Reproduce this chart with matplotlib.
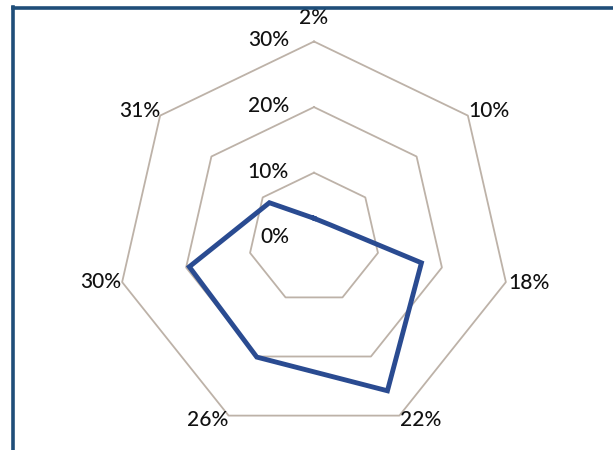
import numpy as np
import matplotlib
matplotlib.use("Agg")
import matplotlib.pyplot as plt
from matplotlib.lines import Line2D

categories = ["2%", "10%", "18%", "22%", "26%", "30%", "31%"]
values = [3.05, 3.25, 16.8, 25.8, 20.1, 19.5, 8.7]
ring_levels = [10, 20, 30]
ring_labels = ["0%", "10%", "20%", "30%"]
ring_label_values = [0, 10, 20, 30]

plt.rcParams['font.family'] = ['Lato', 'DejaVu Sans']

W, H = 613, 450
fig = plt.figure(figsize=(W / 100, H / 100), dpi=100)
fig.patch.set_facecolor('white')

cx, cy, R = 314, 238.3, 196.8
ax = fig.add_axes([(cx - R) / W, (H - cy - R) / H, 2 * R / W, 2 * R / H], projection='polar')
ax.set_theta_offset(np.pi / 2)
ax.set_theta_direction(-1)
ax.set_ylim(0, 30)
ax.grid(False)
ax.spines['polar'].set_visible(False)
ax.set_xticks([])
ax.set_yticks([])
ax.patch.set_alpha(0)

n = len(categories)
angles = np.linspace(0, 2 * np.pi, n, endpoint=False)
closed = np.concatenate([angles, angles[:1]])

grid_color = '#BDB2A8'
for lv in ring_levels:
    ax.plot(closed, [lv] * (n + 1), color=grid_color, lw=1.3, clip_on=False, zorder=1)

vals = list(values) + [values[0]]
ax.plot(closed, vals, color='#2A4B91', lw=3.5, clip_on=False, zorder=3,
        solid_joinstyle='miter')

txt_color = '#111111'
fs = 15
# category labels: (ha, va, dx, dy) in pixels
label_style = [
    ('center', 'center', 0, 24),
    ('left', 'center', 0, 5),
    ('left', 'center', 2, -1),
    ('left', 'center', 1, -4),
    ('right', 'center', 0, -4),
    ('right', 'center', -1, 0),
    ('right', 'center', 0, 5),
]
for ang, lab, (ha, va, dx, dy) in zip(angles, categories, label_style):
    ax.annotate(lab, xy=(ang, 30), xytext=(dx, dy), textcoords='offset pixels',
                ha=ha, va=va, fontsize=fs, color=txt_color, annotation_clip=False,
                fontweight='medium')

for lv, lab in zip(ring_label_values, ring_labels):
    ax.annotate(lab, xy=(0, lv), xytext=(-25, 1), textcoords='offset pixels',
                ha='right', va='center', fontsize=fs, color=txt_color, annotation_clip=False,
                fontweight='medium')

# frame lines (left and top)
frame_color = '#1F4E79'
fig.add_artist(Line2D([12.5 / W, 12.5 / W], [0, 1 - 6.5 / H], color=frame_color, lw=2.6,
                      transform=fig.transFigure, solid_capstyle='projecting'))
fig.add_artist(Line2D([12.5 / W, 1], [1 - 8 / H, 1 - 8 / H], color=frame_color, lw=2.6,
                      transform=fig.transFigure, solid_capstyle='projecting'))

fig.savefig('out.png', dpi=100, facecolor='white')
